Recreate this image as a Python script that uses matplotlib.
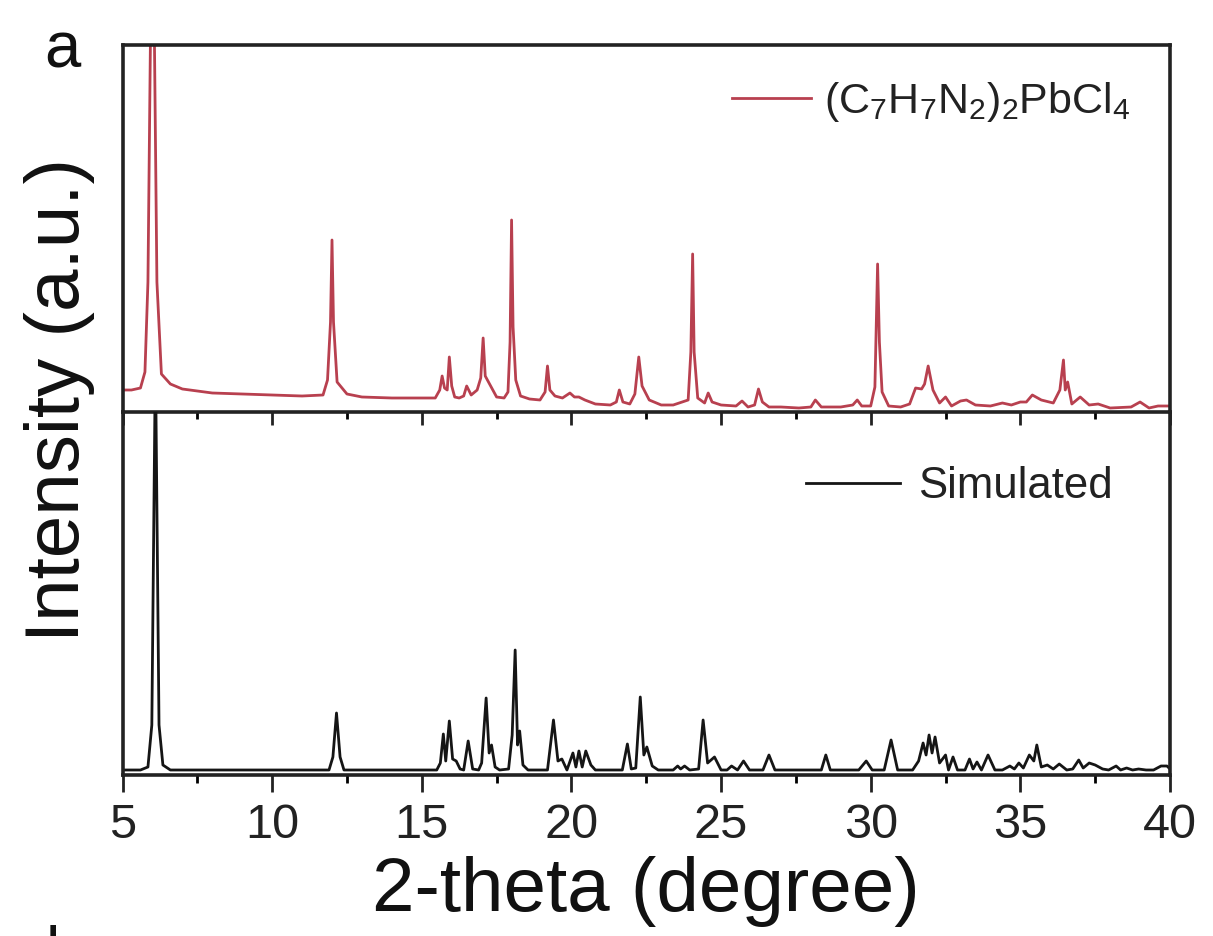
import matplotlib
matplotlib.use("Agg")
import matplotlib.pyplot as plt

plt.rcParams['font.family'] = ['Liberation Sans', 'DejaVu Sans']
plt.rcParams['mathtext.fontset'] = 'custom'
plt.rcParams['mathtext.rm'] = 'Liberation Sans'

# values, intensity in a.u. (0 = axis, panel top about 367)
exp_x = [5, 5.3, 5.6, 5.75, 5.85, 5.95, 6.05, 6.15, 6.3, 6.6, 7, 8, 9, 10, 11, 11.7, 11.85, 11.95, 12.0, 12.05, 12.17,
         12.5, 13, 14, 15, 15.45, 15.6, 15.68, 15.76, 15.85, 15.92, 16.0, 16.1, 16.25, 16.4, 16.5, 16.65, 16.85, 16.97,
         17.05, 17.12, 17.3, 17.5, 17.75, 17.88, 17.95, 18.0, 18.05, 18.14, 18.3, 18.6, 18.95, 19.12, 19.2, 19.28, 19.45,
         19.7, 19.95, 20.1, 20.25, 20.45, 20.8, 21.3, 21.5, 21.6, 21.72, 21.95, 22.12, 22.25, 22.36, 22.6, 23, 23.4, 23.9,
         23.99, 24.05, 24.1, 24.22, 24.45, 24.57, 24.7, 25, 25.5, 25.7, 25.9, 26.12, 26.25, 26.38, 26.6, 27, 27.6, 28.0,
         28.15, 28.35, 29, 29.4, 29.55, 29.7, 30, 30.14, 30.23, 30.29, 30.38, 30.6, 31, 31.3, 31.5, 31.7, 31.8, 31.92,
         32.08, 32.3, 32.5, 32.7, 33, 33.2, 33.5, 34, 34.4, 34.7, 35, 35.2, 35.4, 35.7, 36.1, 36.32, 36.44, 36.5, 36.58,
         36.72, 37.0, 37.3, 37.6, 38, 38.7, 39.0, 39.3, 39.6, 40]
exp_y = [22, 22, 24, 40, 130, 420, 420, 130, 38, 28, 23, 19, 18, 17, 16, 17, 32, 90, 172, 90, 30,
         18, 15, 14, 14, 14, 22, 36, 24, 22, 55, 26, 15, 14, 16, 26, 17, 22, 34,
         74, 36, 26, 15, 14, 20, 70, 192, 85, 32, 16, 13, 12, 20, 46, 22, 16,
         14, 19, 15, 15, 12, 8, 7, 10, 22, 10, 8, 18, 55, 26, 12, 7, 7, 12,
         60, 158, 60, 14, 9, 19, 10, 7, 6, 11, 5, 7, 23, 10, 5, 5, 4, 5,
         12, 5, 5, 7, 12, 6, 6, 25, 148, 70, 20, 6, 5, 8, 24, 23, 28, 46,
         22, 9, 15, 6, 11, 12, 7, 6, 9, 7, 10, 10, 17, 12, 9, 22, 52, 22, 30,
         8, 15, 7, 8, 4, 5, 10, 4, 6, 6]

sim_x = [5, 5.6, 5.85, 5.98, 6.1, 6.22, 6.35, 6.6, 7, 9, 11, 11.9, 12.03, 12.15, 12.27, 12.4, 13, 15, 15.5, 15.62, 15.72,
         15.8, 15.92, 16.03, 16.15, 16.28, 16.4, 16.55, 16.7, 16.9, 17.0, 17.15, 17.25, 17.33, 17.45, 17.6, 17.9, 18.02,
         18.12, 18.2, 18.27, 18.38, 18.55, 19.2, 19.4, 19.55, 19.68, 19.85, 20.05, 20.15, 20.25, 20.36, 20.48, 20.65,
         20.8, 21.7, 21.87, 22.0, 22.15, 22.3, 22.42, 22.52, 22.7, 22.9, 23.4, 23.55, 23.65, 23.78, 23.95, 24.25, 24.4,
         24.55, 24.78, 25.0, 25.2, 25.35, 25.55, 25.75, 25.95, 26.4, 26.6, 26.8, 27.5, 28.35, 28.5, 28.65, 29.2, 29.6,
         29.85, 30.05, 30.45, 30.68, 30.9, 31.4, 31.6, 31.75, 31.85, 31.95, 32.05, 32.15, 32.3, 32.5, 32.6, 32.75, 32.9,
         33.15, 33.3, 33.42, 33.55, 33.7, 33.92, 34.15, 34.4, 34.65, 34.8, 34.95, 35.1, 35.3, 35.45, 35.55, 35.7, 35.9,
         36.1, 36.3, 36.55, 36.75, 36.95, 37.1, 37.3, 37.5, 37.75, 37.95, 38.2, 38.35, 38.55, 38.75, 38.95, 39.2, 39.45,
         39.7, 39.9, 40]
sim_y = [5, 5, 8, 50, 420, 50, 10, 5, 5, 5, 5, 5, 18, 62, 18, 5, 5, 5, 5, 12, 41,
         14, 54, 16, 14, 6, 5, 34, 6, 5, 12, 77, 22, 30, 8, 5, 6, 40,
         125, 30, 44, 10, 5, 5, 55, 14, 16, 5, 22, 8, 24, 8, 24, 10,
         5, 5, 31, 6, 7, 78, 20, 28, 9, 5, 5, 9, 6, 9, 5, 6, 55,
         12, 18, 5, 5, 9, 5, 14, 5, 5, 20, 5, 5, 5, 20, 5, 5, 5,
         14, 5, 5, 35, 5, 5, 14, 32, 20, 40, 22, 38, 12, 20, 5, 18, 5,
         5, 16, 6, 13, 5, 20, 5, 5, 9, 6, 12, 7, 20, 14, 30, 8, 10,
         6, 11, 5, 6, 15, 7, 12, 10, 6, 5, 9, 5, 7, 5, 6, 5, 5,
         9, 9, 6]

exp_label = r'$\mathregular{(C_7H_7N_2)_2PbCl_4}$'
sim_label = 'Simulated'
major_ticks = [5, 10, 15, 20, 25, 30, 35, 40]
minor_ticks = [7.5, 12.5, 17.5, 22.5, 27.5, 32.5, 37.5]

fig = plt.figure(figsize=(12.13, 9.36), dpi=100)
ax1 = fig.add_axes([122.5/1213, 1-412/936, 1047.5/1213, 367/936])
ax2 = fig.add_axes([122.5/1213, 1-775/936, 1047.5/1213, 363/936])
ax2.patch.set_alpha(0)

ax1.plot(exp_x, exp_y, color='#b8404f', lw=2, label=exp_label)
ax2.plot(sim_x, sim_y, color='#151515', lw=2, label=sim_label)

for ax in [ax1, ax2]:
    ax.set_xlim(5, 40)
    ax.set_yticks([])
    ax.set_xticks(major_ticks)
    ax.set_xticks(minor_ticks, minor=True)
    ax.tick_params(axis='x', which='major', direction='out', length=12, width=2, labelsize=35, colors='#222222', pad=8)
    ax.tick_params(axis='x', which='minor', direction='out', length=6, width=2)
    for s in ax.spines.values():
        s.set_linewidth(2.6)
        s.set_color('#222222')

ax1.set_ylim(0, 367)
ax2.set_ylim(0, 363)
ax1.tick_params(axis='x', which='major', labelbottom=False, length=9)
ax1.tick_params(axis='x', which='minor', length=5)
ax2.spines['top'].set_visible(False)

ax1.legend(loc='upper right', bbox_to_anchor=(0.962, 0.905), frameon=False, fontsize=31, handlelength=1.84,
           handletextpad=0.3, borderpad=0, borderaxespad=0, labelcolor='#222222')
ax2.legend(loc='upper right', bbox_to_anchor=(0.945, 0.85), frameon=False, fontsize=31.5, handlelength=2.16,
           handletextpad=0.4, borderpad=0, borderaxespad=0, labelcolor='#222222')

ax2.set_xlabel('2-theta (degree)', fontsize=55, color='#111111', labelpad=6)
fig.text(60/1213, 1-400/936, 'Intensity (a.u.)', rotation=90, fontsize=55, color='#111111', ha='center', va='center')
fig.text(62/1213, 1-50/936, 'a', fontsize=47, color='#111111', ha='center', va='center')
fig.text(64/1213, 1-955/936, 'b', fontsize=47, color='#111111', ha='center', va='center')

fig.savefig('out.png', dpi=100)
